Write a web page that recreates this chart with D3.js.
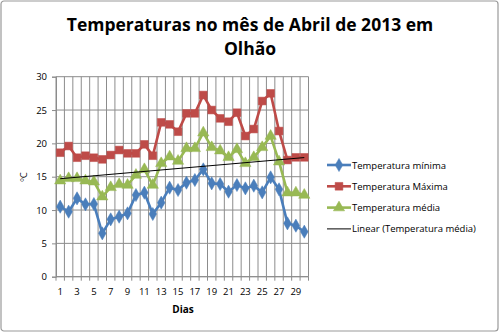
<!DOCTYPE html>
<html>
<head>
<meta charset="utf-8">
<script src="https://cdn.jsdelivr.net/npm/d3@7"></script>
<style>
  html, body { margin: 0; padding: 0; background: #fff; }
  svg { display: block; font-family: "Open Sans", "Liberation Sans", sans-serif; }
</style>
</head>
<body>
<svg id="chart" width="500" height="333"></svg>
<script>
// Daily temperatures, April 2013, Olhão
const days = d3.range(1, 31);
const tempMin = [10.5, 9.75, 11.75, 10.85, 10.9, 6.5, 8.6, 9.0, 9.5, 12.25,
                 12.6, 9.4, 11.1, 13.35, 13.0, 14.1, 14.5, 16.1, 14.0, 13.9,
                 12.75, 13.75, 13.25, 13.65, 12.65, 14.9, 13.1, 8.0, 7.65, 6.75];
const tempMax = [18.6, 19.6, 17.85, 18.15, 17.85, 17.6, 18.25, 19.0, 18.5, 18.5,
                 19.85, 18.15, 23.15, 22.85, 21.75, 24.5, 24.5, 27.25, 25.0, 23.75,
                 23.25, 24.6, 21.1, 22.15, 26.35, 27.5, 21.85, 17.5, 17.9, 17.9];
const tempMed = [14.4, 14.75, 14.75, 14.4, 14.25, 12.0, 13.4, 13.85, 13.75, 15.25,
                 16.1, 13.75, 17.0, 18.0, 17.35, 19.25, 19.25, 21.6, 19.4, 18.9,
                 17.9, 19.1, 17.0, 17.9, 19.4, 21.1, 17.25, 12.6, 12.6, 12.25];
const yTicks = [0, 5, 10, 15, 20, 25, 30];
const xTickLabels = days.filter(d => d % 2 === 1);

const series = [
  { name: "Temperatura mínima", values: tempMin, color: "#4a7ebb", marker: "diamond" },
  { name: "Temperatura Máxima", values: tempMax, color: "#be4b48", marker: "square" },
  { name: "Temperatura média",  values: tempMed, color: "#98b954", marker: "triangle" }
];

const svg = d3.select("#chart");
const plot = { left: 56, right: 308.5, top: 76.7, bottom: 276.7 };

// Outer chart frame
svg.append("rect")
  .attr("x", 1).attr("y", 1).attr("width", 497).attr("height", 330)
  .attr("rx", 3)
  .attr("fill", "#fff").attr("stroke", "#9a9a9a").attr("stroke-width", 1.2);

// Title
const title = svg.append("text")
  .attr("text-anchor", "middle")
  .attr("font-weight", "bold")
  .attr("font-size", 17.5)
  .attr("fill", "#000");
title.append("tspan").attr("x", 250).attr("y", 31).text("Temperaturas no mês de Abril de 2013 em");
title.append("tspan").attr("x", 250).attr("y", 55).text("Olhão");

const x = d3.scaleBand().domain(days).range([plot.left, plot.right]).padding(0);
const y = d3.scaleLinear().domain([0, 30]).range([plot.bottom, plot.top]);

// Gridlines
const grid = svg.append("g").attr("stroke", "#8c8c8c").attr("stroke-width", 1);
grid.selectAll("line.h").data(yTicks).join("line")
  .attr("x1", plot.left).attr("x2", plot.right)
  .attr("y1", d => y(d)).attr("y2", d => y(d));
const boundaries = days.map(d => x(d)).concat([plot.right]);
grid.selectAll("line.v").data(boundaries).join("line")
  .attr("x1", d => d).attr("x2", d => d)
  .attr("y1", plot.top).attr("y2", plot.bottom);

// Y axis
const yAxis = d3.axisLeft(y).tickValues(yTicks).tickSize(4).tickPadding(5);
const gy = svg.append("g").attr("transform", `translate(${plot.left},0)`).call(yAxis);
gy.select(".domain").attr("stroke", "#8c8c8c");
gy.selectAll(".tick line").attr("stroke", "#8c8c8c");
gy.selectAll(".tick text").attr("font-size", 9.5).attr("fill", "#000")
  .attr("font-family", "Open Sans, sans-serif");

// X axis: ticks at category boundaries, labels on odd days
const gx = svg.append("g").attr("transform", `translate(0,${plot.bottom})`);
gx.append("line").attr("x1", plot.left).attr("x2", plot.right)
  .attr("stroke", "#8c8c8c");
gx.selectAll("line.t").data(boundaries).join("line")
  .attr("x1", d => d).attr("x2", d => d).attr("y1", 0).attr("y2", 4)
  .attr("stroke", "#8c8c8c");
gx.selectAll("text").data(xTickLabels).join("text")
  .attr("x", d => x(d) + x.bandwidth() / 2)
  .attr("y", 18)
  .attr("text-anchor", "middle")
  .attr("font-size", 9.5)
  .text(d => d);

// Axis titles
svg.append("text").attr("x", 183).attr("y", 313).attr("text-anchor", "middle")
  .attr("font-size", 10).attr("font-weight", "bold").text("Dias");
svg.append("text").attr("transform", "translate(27,177) rotate(-90)")
  .attr("text-anchor", "middle").attr("font-size", 9.5).text("ºC");

// Markers
const markerSize = { diamond: 50, square: 60, triangle: 55 };
const markerType = { diamond: d3.symbolDiamond, square: d3.symbolSquare, triangle: d3.symbolTriangle };
function drawMarker(sel, s) {
  sel.attr("d", d3.symbol().type(markerType[s.marker]).size(markerSize[s.marker])())
    .attr("fill", s.color).attr("stroke", s.color).attr("stroke-width", 0.5);
}

const cx = d => x(d) + x.bandwidth() / 2;
const line = d3.line().x((v, i) => cx(days[i])).y(v => y(v));

series.forEach(s => {
  const g = svg.append("g");
  g.append("path").datum(s.values)
    .attr("d", line).attr("fill", "none")
    .attr("stroke", s.color).attr("stroke-width", 2.6).attr("stroke-linejoin", "round");
  g.selectAll("path.m").data(s.values).join("path")
    .attr("class", "m")
    .attr("transform", (v, i) => `translate(${cx(days[i])},${y(v)})`)
    .each(function () { drawMarker(d3.select(this), s); });
});

// Linear trend of the mean temperature (least squares)
const n = days.length;
const mx = d3.mean(days), my = d3.mean(tempMed);
const slope = d3.sum(days, (d, i) => (d - mx) * (tempMed[i] - my)) / d3.sum(days, d => (d - mx) ** 2);
const intercept = my - slope * mx;
svg.append("line")
  .attr("x1", cx(days[0])).attr("y1", y(intercept + slope * days[0]))
  .attr("x2", cx(days[n - 1])).attr("y2", y(intercept + slope * days[n - 1]))
  .attr("stroke", "#000").attr("stroke-width", 1);

// Legend
const legendItems = series.map(s => ({ name: s.name, s }))
  .concat([{ name: "Linear (Temperatura média)", s: null }]);
const lg = svg.append("g");
legendItems.forEach((it, i) => {
  const yy = 165 + i * 21.3;
  const row = lg.append("g").attr("transform", `translate(327,${yy})`);
  if (it.s) {
    row.append("line").attr("x1", 0).attr("x2", 24).attr("stroke", it.s.color).attr("stroke-width", 2.6);
    drawMarker(row.append("path").attr("transform", "translate(12,0)"), it.s);
  } else {
    row.append("line").attr("x1", 0).attr("x2", 24).attr("stroke", "#000").attr("stroke-width", 1);
  }
  row.append("text").attr("x", 25).attr("y", 3.5).attr("font-size", 9.5).text(it.name);
});
</script>
</body>
</html>
